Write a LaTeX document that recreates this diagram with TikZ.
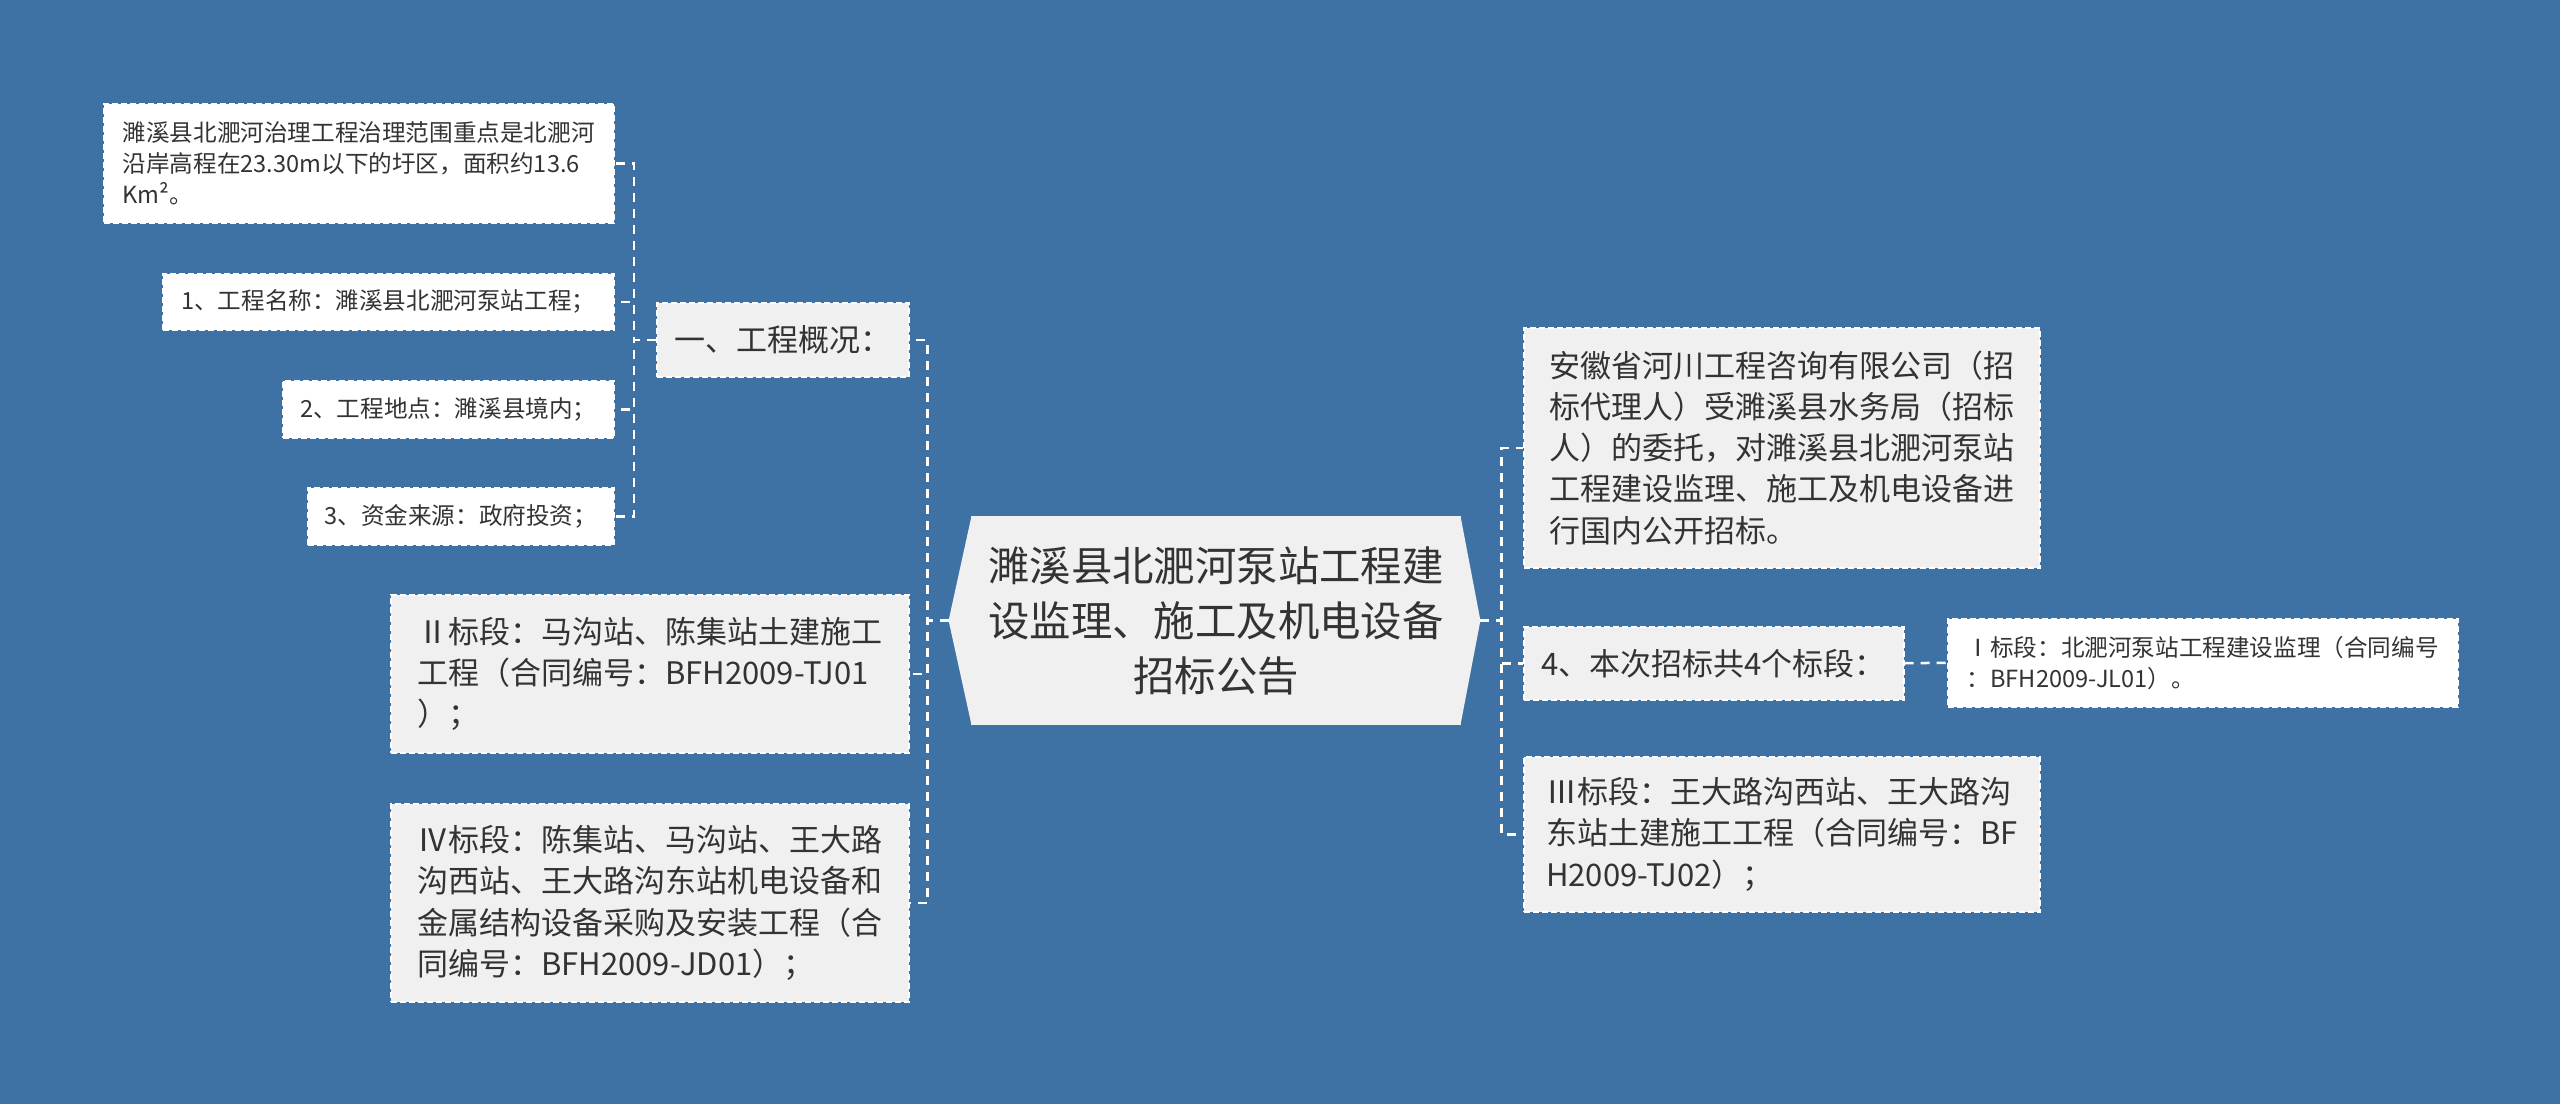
\documentclass[tikz,border=0pt]{standalone}
\usepackage{fontspec}
\setmainfont{Noto Sans CJK SC}
\usetikzlibrary{positioning, calc}
\definecolor{bgblue}{RGB}{62, 114, 165}
\definecolor{boxgray}{RGB}{240, 240, 240}
\definecolor{inkgray}{RGB}{51, 51, 51}
\tikzset{
  box/.style={draw=white, dash pattern=on 3pt off 1.5pt, line width=0.75pt, text=inkgray, align=left, anchor=north west, inner ysep=0pt},
  midbox/.style={box, fill=boxgray, inner xsep=8pt, font=\fontsize{15.5}{20.6}\selectfont},
  leafbox/.style={box, fill=white, inner xsep=7pt, font=\fontsize{11.8}{15.5}\selectfont},
  link/.style={draw=white, line width=1.25pt, dash pattern=on 4.5pt off 3.5pt},
}

\begin{document}
\begin{tikzpicture}[x=0.5pt, y=-0.5pt]
  \fill[bgblue] (0,0) rectangle (2560,1104);

  % centre
  \node[fill=boxgray, text=inkgray, align=center, minimum width=245pt, minimum height=104.5pt, font=\fontsize{20.7}{27.5}\selectfont] (hub) at (1216,620.5) {濉溪县北淝河泵站工程建\\设监理、施工及机电设备\\招标公告};
  \fill[boxgray] ([xshift=0.5pt]hub.north west) -- ([xshift=-11pt]hub.west) -- ([xshift=0.5pt]hub.south west) -- cycle;
  \fill[boxgray] ([xshift=-0.5pt]hub.north east) -- ([xshift=9.5pt]hub.east) -- ([xshift=-0.5pt]hub.south east) -- cycle;
  \coordinate (hubL) at ([xshift=-11pt]hub.west);
  \coordinate (hubR) at ([xshift=9.5pt]hub.east);

  % left branch
  \node[midbox, minimum width=126pt, minimum height=37pt] (survey) at (656,302) {一、工程概况：};
  \node[midbox, minimum width=259pt, minimum height=79pt] (lot2) at (390,594) {Ⅱ标段：马沟站、陈集站土建施工\\工程（合同编号：BFH2009-TJ01\\）；};
  \node[midbox, minimum width=259pt, minimum height=99pt] (lot4) at (390,803) {Ⅳ标段：陈集站、马沟站、王大路\\沟西站、王大路沟东站机电设备和\\金属结构设备采购及安装工程（合\\同编号：BFH2009-JD01）；};

  \node[leafbox, minimum width=255pt, minimum height=59.5pt] (scope) at (103,103) {濉溪县北淝河治理工程治理范围重点是北淝河\\沿岸高程在23.30m以下的圩区，面积约13.6\\Km²。};
  \node[leafbox, minimum width=225.5pt, minimum height=28pt] (pname) at (162,273) {1、工程名称：濉溪县北淝河泵站工程；};
  \node[leafbox, minimum width=165.5pt, minimum height=28.5pt] (place) at (282,380) {2、工程地点：濉溪县境内；};
  \node[leafbox, minimum width=153pt, minimum height=28.5pt] (funds) at (307,487) {3、资金来源：政府投资；};

  % right branch
  \node[midbox, minimum width=258pt, minimum height=120pt] (agent) at (1523,327) {安徽省河川工程咨询有限公司（招\\标代理人）受濉溪县水务局（招标\\人）的委托，对濉溪县北淝河泵站\\工程建设监理、施工及机电设备进\\行国内公开招标。};
  \node[midbox, minimum width=190pt, minimum height=36.5pt] (lots) at (1523,626) {4、本次招标共4个标段：};
  \node[midbox, minimum width=258pt, minimum height=77.5pt] (lot3) at (1523,756) {Ⅲ标段：王大路沟西站、王大路沟\\东站土建施工工程（合同编号：BF\\H2009-TJ02）；};
  \node[leafbox, minimum width=255pt, minimum height=44pt] (lot1) at (1947,618) {Ⅰ标段：北淝河泵站工程建设监理（合同编号\\：BFH2009-JL01）。};

  % connectors
  \draw[link] (hubL) -- ++(-21,0) |- (survey.east);
  \draw[link] (hubL) -- ++(-21,0) |- (lot2.east);
  \draw[link] (hubL) -- ++(-21,0) |- (lot4.east);
  \draw[link] (survey.west) -- ++(-22,0) |- (scope.east);
  \draw[link] (survey.west) -- ++(-22,0) |- (pname.east);
  \draw[link] (survey.west) -- ++(-22,0) |- (place.east);
  \draw[link] (survey.west) -- ++(-22,0) |- (funds.east);
  \draw[link] (hubR) -- ++(21,0) |- (agent.west);
  \draw[link] (hubR) -- ++(21,0) |- (lots.west);
  \draw[link] (hubR) -- ++(21,0) |- (lot3.west);
  \draw[link] (lots.east) -- (lot1.west);
\end{tikzpicture}
\end{document}
